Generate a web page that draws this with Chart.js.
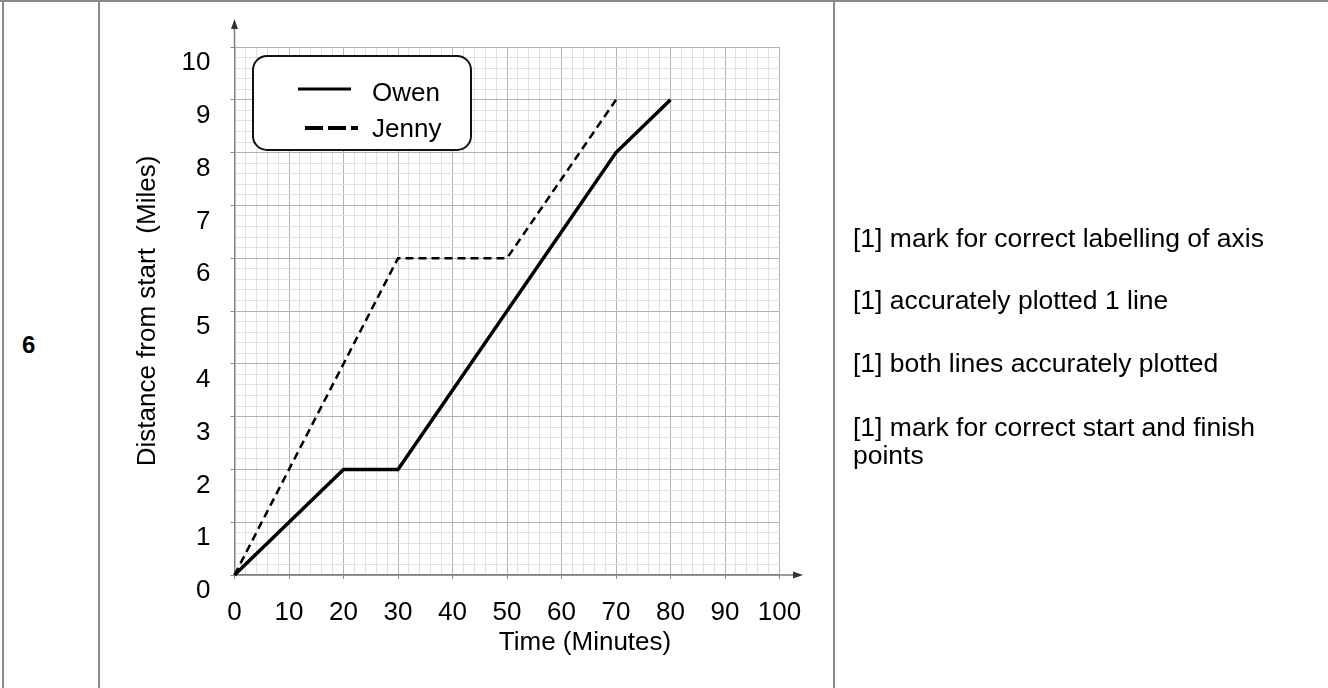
<!DOCTYPE html>
<html>
<head>
<meta charset="utf-8">
<script src="https://cdn.jsdelivr.net/npm/chart.js@4.4.1/dist/chart.umd.min.js"></script>
<style>
  html, body { margin: 0; padding: 0; background: #fff; }
  body { width: 1328px; height: 688px; position: relative; overflow: hidden; font-family: 'Liberation Sans', Arial, sans-serif; }
  .rule { position: absolute; background: #8a8a8a; }
  #chartBox { position: absolute; left: 0; top: 0; width: 1328px; height: 688px; }
  .qnum { position: absolute; left: 22px; top: 331px; font-weight: bold; font-size: 24px; color: #000; }
  .mark { position: absolute; left: 853px; font-size: 26.5px; line-height: 28px; color: #000; white-space: nowrap; }
</style>
</head>
<body>
<div class="rule" style="left:0;top:0;width:1328px;height:2px"></div>
<div class="rule" style="left:2px;top:0;width:2px;height:688px"></div>
<div class="rule" style="left:98px;top:0;width:2px;height:688px"></div>
<div class="rule" style="left:833px;top:0;width:2px;height:688px"></div>

<div class="qnum">6</div>

<div id="chartBox"><canvas id="distChart" width="1328" height="688"></canvas></div>

<div class="mark" style="top:224px">[1] mark for correct labelling of axis</div>
<div class="mark" style="top:286px">[1] accurately plotted 1 line</div>
<div class="mark" style="top:349px">[1] both lines accurately plotted</div>
<div class="mark" style="top:413px">[1] mark for correct start and finish<br>points</div>

<script>
// values
const owenTime = [0, 20, 30, 70, 80];
const owenDist = [0, 2, 2, 8, 9];
const jennyTime = [0, 30, 50, 70];
const jennyDist = [0, 6, 6, 9];
const seriesNames = ['Owen', 'Jenny'];
const xTitle = 'Time (Minutes)';
const yTitle = 'Distance from start  (Miles)';

Chart.defaults.font.family = "'Liberation Sans', Arial, sans-serif";
Chart.defaults.color = '#000';

function toPoints(xs, ys) {
  return xs.map((x, i) => ({ x: x, y: ys[i] }));
}

function isWhole(v, step) {
  const r = v / step;
  return Math.abs(r - Math.round(r)) < 1e-6;
}

// arrows on the axes, the rounded legend box and the x title
const paperExtras = {
  id: 'paperExtras',
  afterDraw(chart) {
    const { ctx, chartArea } = chart;
    const left = chartArea.left, bottom = chartArea.bottom;
    ctx.save();

    // axis arrows
    ctx.strokeStyle = '#7f7f7f';
    ctx.lineWidth = 1.5;
    ctx.beginPath();
    ctx.moveTo(left, chartArea.top);
    ctx.lineTo(left, 25);
    ctx.moveTo(chartArea.right, bottom);
    ctx.lineTo(796, bottom);
    ctx.stroke();
    ctx.fillStyle = '#333';
    ctx.beginPath();
    ctx.moveTo(left, 19);
    ctx.lineTo(left - 3.5, 29);
    ctx.lineTo(left + 3.5, 29);
    ctx.closePath();
    ctx.fill();
    ctx.beginPath();
    ctx.moveTo(803, bottom);
    ctx.lineTo(793, bottom - 3.5);
    ctx.lineTo(793, bottom + 3.5);
    ctx.closePath();
    ctx.fill();

    // legend box
    ctx.fillStyle = '#fff';
    ctx.strokeStyle = '#111';
    ctx.lineWidth = 2;
    ctx.beginPath();
    ctx.roundRect(253, 56, 218, 94, 14);
    ctx.fill();
    ctx.stroke();

    ctx.strokeStyle = '#000';
    ctx.lineWidth = 3;
    ctx.beginPath();
    ctx.moveTo(298, 89);
    ctx.lineTo(351, 89);
    ctx.stroke();

    ctx.lineWidth = 4;
    ctx.setLineDash([18, 5]);
    ctx.beginPath();
    ctx.moveTo(305, 128);
    ctx.lineTo(358, 128);
    ctx.stroke();
    ctx.setLineDash([]);

    ctx.fillStyle = '#000';
    ctx.font = "26px 'Liberation Sans', Arial, sans-serif";
    ctx.textAlign = 'left';
    ctx.textBaseline = 'middle';
    ctx.fillText(chart.data.datasets[0].label, 372, 94);
    ctx.fillText(chart.data.datasets[1].label, 372, 130);

    // x axis title sits right of centre in the original
    ctx.textAlign = 'center';
    ctx.fillText(xTitle, 585, 643);
    ctx.restore();
  }
};

const ctx = document.getElementById('distChart').getContext('2d');
new Chart(ctx, {
  type: 'line',
  data: {
    datasets: [
      {
        label: seriesNames[0],
        data: toPoints(owenTime, owenDist),
        borderColor: '#000',
        borderWidth: 3.5,
        pointRadius: 0,
        tension: 0,
        clip: false,
      },
      {
        label: seriesNames[1],
        data: toPoints(jennyTime, jennyDist),
        borderColor: '#000',
        borderWidth: 2.5,
        borderDash: [8, 5],
        pointRadius: 0,
        tension: 0,
        clip: false,
      },
    ],
  },
  options: {
    responsive: false,
    animation: false,
    layout: { padding: { left: 100, top: 47, right: 548.5, bottom: 0 } },
    plugins: {
      legend: { display: false },
      tooltip: { enabled: false },
    },
    scales: {
      x: {
        type: 'linear',
        min: 0,
        max: 100,
        afterFit: (scale) => { scale.height = 113; },
        ticks: {
          stepSize: 2,
          autoSkip: false,
          maxRotation: 0,
          padding: 18,
          font: { size: 26 },
          callback: (v) => isWhole(v, 10) ? String(v) : '',
        },
        grid: {
          color: (c) => c.tick && isWhole(c.tick.value, 10) ? '#b3b3b3' : '#e0e0e0',
          tickColor: (c) => c.tick && isWhole(c.tick.value, 10) ? '#8c8c8c' : 'rgba(0,0,0,0)',
          tickLength: 4,
        },
        border: { color: '#7f7f7f', width: 1.5 },
      },
      y: {
        type: 'linear',
        min: 0,
        max: 10,
        afterFit: (scale) => { scale.width = 134.5; },
        ticks: {
          stepSize: 0.2,
          autoSkip: false,
          padding: 20,
          labelOffset: 16,
          font: { size: 26 },
          callback: (v) => isWhole(v, 1) ? String(Math.round(v)) : '',
        },
        grid: {
          color: (c) => c.tick && isWhole(c.tick.value, 1) ? '#b3b3b3' : '#e0e0e0',
          tickColor: (c) => c.tick && isWhole(c.tick.value, 1) ? '#8c8c8c' : 'rgba(0,0,0,0)',
          tickLength: 4,
        },
        border: { color: '#7f7f7f', width: 1.5 },
        title: {
          display: true,
          text: yTitle,
          font: { size: 26 },
          padding: { top: 32, bottom: 0 },
        },
      },
    },
  },
  plugins: [paperExtras],
});
</script>
</body>
</html>
